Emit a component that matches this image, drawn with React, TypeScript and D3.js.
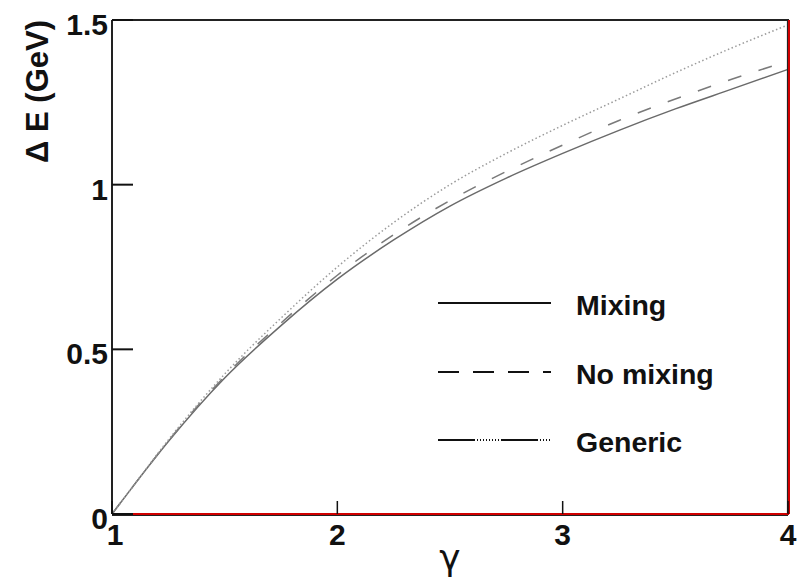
import React from 'react';
import * as d3 from 'd3';

// gamma values sampled along the curves
const gammaVals = [1.0, 1.1, 1.25, 1.5, 1.75, 2.0, 2.25, 2.5, 2.75, 3.0, 3.25, 3.5, 3.75, 4.0];
// Delta E (GeV) for each scenario
const mixing = [0, 0.09, 0.22, 0.413, 0.572, 0.713, 0.832, 0.935, 1.02, 1.095, 1.165, 1.23, 1.29, 1.35];
const noMixing = [0, 0.09, 0.222, 0.418, 0.58, 0.725, 0.848, 0.952, 1.04, 1.12, 1.195, 1.26, 1.32, 1.375];
const generic = [0, 0.09, 0.225, 0.425, 0.595, 0.75, 0.885, 1.0, 1.095, 1.18, 1.26, 1.34, 1.415, 1.485];

const xTicks = [1, 2, 3, 4];
const yTicks = [0, 0.5, 1, 1.5];
const xTickLabels = ['1', '2', '3', '4'];
const yTickLabels = ['0', '0.5', '1', '1.5'];

const legendLabels = ['Mixing', 'No mixing', 'Generic'];

const FONT = '"Liberation Sans", Arial, Helvetica, sans-serif';

export default function App() {
  const width = 800;
  const height = 584;
  const left = 112, right = 788, top = 20, bottom = 514;

  const x = d3.scaleLinear().domain([1, 4]).range([left, right]);
  const y = d3.scaleLinear().domain([0, 1.5]).range([bottom, top]);

  const line = d3.line<number>()
    .x((_, i) => x(gammaVals[i]))
    .y(d => y(d))
    .curve(d3.curveMonotoneX);

  const series = [
    { name: legendLabels[0], values: mixing, color: '#6a6a6a', dash: undefined as string | undefined, legendDash: undefined as string | undefined },
    { name: legendLabels[1], values: noMixing, color: '#7a7a7a', dash: '14 18', legendDash: '21 14' },
    { name: legendLabels[2], values: generic, color: '#9a9a9a', dash: '1.5 2.5', legendDash: '37 2 1 2 1 2 1 2 1 2 1 2 1 2 1 2 1 2' },
  ];

  const legendY = [303, 372, 440];

  return (
    <svg width={width} height={height} style={{ position: 'absolute', left: 0, top: 0, background: '#fff' }}>
      <rect x={0} y={0} width={width} height={height} fill="#fff" />

      {/* curves */}
      {series.map(s => (
        <path key={s.name} d={line(s.values) || ''} fill="none" stroke={s.color}
          strokeWidth={1.5} strokeDasharray={s.dash} />
      ))}

      {/* frame */}
      <line x1={left} x2={right + 1} y1={top} y2={top} stroke="#222" strokeWidth={2} />
      <line x1={left} x2={left} y1={top} y2={bottom} stroke="#222" strokeWidth={2} />
      <line x1={left} x2={right} y1={bottom + 1.5} y2={bottom + 1.5} stroke="#222" strokeWidth={1.2} />
      <line x1={right - 0.5} x2={right - 0.5} y1={top} y2={bottom} stroke="#222" strokeWidth={1.2} />
      <line x1={left} x2={right + 1} y1={bottom} y2={bottom} stroke="#d00000" strokeWidth={2} />
      <line x1={right + 1} x2={right + 1} y1={top} y2={bottom} stroke="#d00000" strokeWidth={2} />

      {/* y ticks */}
      {yTicks.map((t, i) => (
        <g key={'y' + t}>
          <line x1={left} x2={left + 21} y1={y(t)} y2={y(t)} stroke="#111" strokeWidth={2} />
          <text x={left - 4} y={y(t) + 15} textAnchor="end" fontFamily={FONT} fontWeight="bold"
            fontSize={30} fill="#111">{yTickLabels[i]}</text>
        </g>
      ))}

      {/* x ticks */}
      {xTicks.map((t, i) => (
        <g key={'x' + t}>
          <line x1={x(t)} x2={x(t)} y1={bottom} y2={bottom - 13} stroke="#111" strokeWidth={1.5} />
          <text x={x(t) + (i === 0 ? 3 : 0)} y={545} textAnchor="middle" fontFamily={FONT} fontWeight="bold"
            fontSize={30} fill="#111">{xTickLabels[i]}</text>
        </g>
      ))}

      {/* axis titles */}
      <text transform={`translate(48, ${top}) rotate(-90)`} textAnchor="end" fontFamily={FONT}
        fontWeight="bold" fontSize={31} fill="#111">Δ E (GeV)</text>
      <text x={450} y={570} textAnchor="middle" fontFamily='"DejaVu Sans", sans-serif'
        fontSize={36} fill="#111">γ</text>

      {/* legend */}
      {series.map((s, i) => (
        <g key={'leg' + s.name}>
          <line x1={438} x2={551} y1={legendY[i]} y2={legendY[i]} stroke="#111" strokeWidth={2}
            strokeDasharray={s.legendDash} />
          <text x={576} y={legendY[i] + 12} fontFamily={FONT} fontWeight="bold" fontSize={28.5}
            fill="#111">{s.name}</text>
        </g>
      ))}
    </svg>
  );
}
